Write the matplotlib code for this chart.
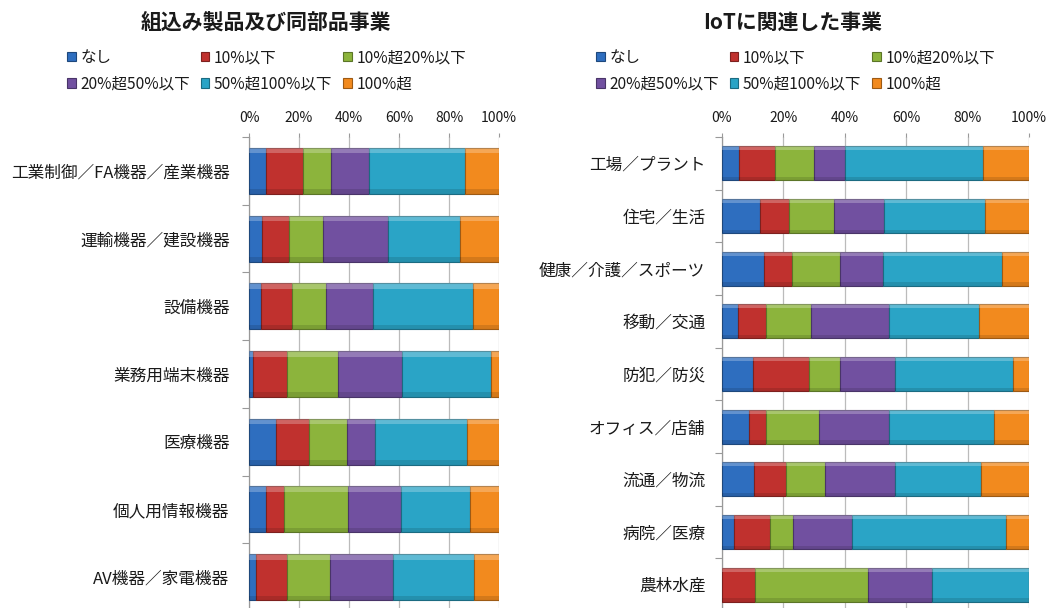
import matplotlib
matplotlib.use("Agg")
import matplotlib.pyplot as plt
import numpy as np
from matplotlib.ticker import FixedLocator, PercentFormatter

plt.rcParams['font.family'] = ['Noto Sans CJK JP', 'DejaVu Sans']

series_names = ['なし', '10%以下', '10%超20%以下', '20%超50%以下', '50%超100%以下', '100%超']
series_colors = ['#2E6EBF', '#C0312E', '#8CB43C', '#7150A0', '#2AA4C6', '#F28A1E']

left_title = '組込み製品及び同部品事業'
left_categories = ['工業制御／FA機器／産業機器', '運輸機器／建設機器', '設備機器', '業務用端末機器',
                   '医療機器', '個人用情報機器', 'AV機器／家電機器']
left_none = [6.7, 5.1, 4.7, 1.5, 10.7, 6.9, 2.7]
left_le10 = [14.9, 10.9, 12.4, 13.6, 13.3, 7.1, 12.4]
left_10_20 = [11.1, 13.7, 13.8, 20.6, 15.3, 25.6, 17.2]
left_20_50 = [15.3, 26.0, 18.8, 25.6, 11.0, 21.1, 25.4]
left_50_100 = [38.4, 28.7, 39.9, 35.4, 36.8, 27.7, 32.3]
left_over100 = [13.6, 15.6, 10.4, 3.3, 12.9, 11.6, 10.0]

right_title = 'IoTに関連した事業'
right_categories = ['工場／プラント', '住宅／生活', '健康／介護／スポーツ', '移動／交通', '防犯／防災',
                    'オフィス／店舗', '流通／物流', '病院／医療', '農林水産']
right_none = [5.7, 12.5, 13.8, 5.2, 10.1, 8.7, 10.3, 4.0, 0.0]
right_le10 = [11.6, 9.4, 9.0, 9.2, 18.1, 5.6, 10.5, 11.7, 10.6]
right_10_20 = [12.7, 14.7, 15.7, 14.7, 10.3, 17.4, 12.6, 7.3, 36.8]
right_20_50 = [10.1, 16.3, 13.9, 25.3, 17.9, 22.7, 23.0, 19.5, 20.9]
right_50_100 = [45.0, 32.9, 38.7, 29.3, 38.3, 34.3, 28.0, 49.9, 31.7]
right_over100 = [14.9, 14.3, 8.9, 16.3, 5.3, 11.3, 15.6, 7.6, 0.0]

xticks = [0, 20, 40, 60, 80, 100]

W, H = 1051, 608
fig = plt.figure(figsize=(W / 100, H / 100), dpi=100)


def darker(c, f=0.7):
    r, g, b = matplotlib.colors.to_rgb(c)
    return (r * f, g * f, b * f)


def draw(ax, categories, data, bar_h, label_pad):
    n = len(categories)
    y = np.arange(n)
    left = np.zeros(n)
    handles = []
    for name, vals, col in zip(series_names, data, series_colors):
        vals = np.asarray(vals, dtype=float)
        b = ax.barh(y, vals, left=left, height=bar_h, color=col,
                    edgecolor=darker(col, 0.65), linewidth=0.8, zorder=3, label=name)
        # bevel highlight (top) and shade (bottom)
        ax.barh(y - bar_h / 2 + bar_h * 0.06, vals, left=left, height=bar_h * 0.12,
                color='white', alpha=0.25, linewidth=0, zorder=4)
        ax.barh(y + bar_h / 2 - bar_h * 0.05, vals, left=left, height=bar_h * 0.10,
                color='black', alpha=0.12, linewidth=0, zorder=4)
        handles.append(b)
        left = left + vals
    ax.set_xlim(0, 100)
    ax.set_ylim(n - 0.5, -0.5)
    ax.set_yticks(y)
    ax.set_yticklabels(categories, fontsize=12, color='#1a1a1a')
    ax.yaxis.set_minor_locator(FixedLocator(np.arange(n + 1) - 0.5))
    ax.tick_params(axis='y', which='major', length=0, pad=label_pad)
    ax.tick_params(axis='y', which='minor', length=5, color='#999999', width=0.8)
    ax.set_xticks(xticks)
    ax.xaxis.set_major_formatter(PercentFormatter(decimals=0))
    ax.xaxis.tick_top()
    ax.tick_params(axis='x', which='major', length=3, color='#999999', labelsize=10,
                   pad=6, labelcolor='#1a1a1a')
    ax.grid(axis='x', color='#BBBBBB', linewidth=0.9, zorder=0)
    ax.set_axisbelow(True)
    for s in ['top', 'right', 'bottom']:
        ax.spines[s].set_visible(False)
    ax.spines['left'].set_color('#999999')
    ax.spines['left'].set_linewidth(0.9)
    return handles


top_px, bot_px = 137, 611
axL = fig.add_axes([249 / W, 1 - bot_px / H, 250 / W, (bot_px - top_px) / H])
axR = fig.add_axes([722 / W, 1 - bot_px / H, 307 / W, (bot_px - top_px) / H])

hL = draw(axL, left_categories,
          [left_none, left_le10, left_10_20, left_20_50, left_50_100, left_over100], 0.68, 14)
hR = draw(axR, right_categories,
          [right_none, right_le10, right_10_20, right_20_50, right_50_100, right_over100], 0.65, 12)

fig.text(266 / W, 1 - 22 / H, left_title, ha='center', va='center', fontsize=15,
         fontweight='bold', color='#1a1a1a')
fig.text(793 / W, 1 - 22 / H, right_title, ha='center', va='center', fontsize=15,
         fontweight='bold', color='#1a1a1a')

order = [0, 3, 1, 4, 2, 5]


def add_legend(handles, x_px, y_px):
    leg = fig.legend([handles[i] for i in order], [series_names[i] for i in order],
                     loc='upper left', bbox_to_anchor=(x_px / W, 1 - y_px / H),
                     ncol=3, frameon=False, fontsize=11.2, handlelength=0.55,
                     handleheight=0.55, handletextpad=0.3, columnspacing=0.7,
                     labelspacing=0.6, borderpad=0, borderaxespad=0)
    for t in leg.get_texts():
        t.set_color('#1a1a1a')
    return leg


add_legend(hL, 67, 49)
add_legend(hR, 596, 49)

fig.savefig('out.png', dpi=100)
